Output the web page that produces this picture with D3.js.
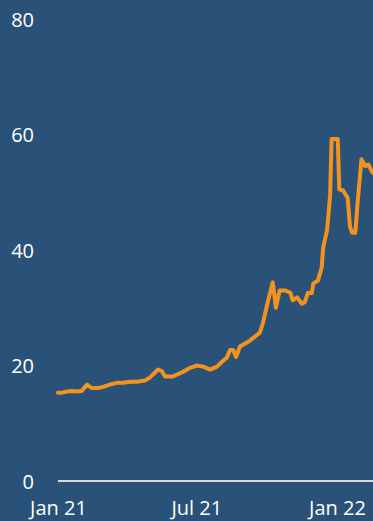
<!DOCTYPE html>
<html>
<head>
<meta charset="utf-8">
<script src="https://cdn.jsdelivr.net/npm/d3@7"></script>
<style>
  html, body { margin: 0; padding: 0; background: #2a5279; overflow: hidden; }
  svg { display: block; }
  text { font-family: "Open Sans", sans-serif; }
</style>
</head>
<body>
<svg id="chart" width="373" height="521"></svg>
<script>
// Data
const dates = [
  "2021-01-01","2021-01-06","2021-01-13","2021-01-19","2021-01-26","2021-02-01",
  "2021-02-08","2021-02-14","2021-02-22","2021-03-01","2021-03-10","2021-03-19",
  "2021-03-27","2021-04-05","2021-04-14","2021-04-25","2021-05-01","2021-05-12",
  "2021-05-17","2021-05-21","2021-05-31","2021-06-12","2021-06-23","2021-07-02",
  "2021-07-10","2021-07-19","2021-07-28","2021-08-04","2021-08-10","2021-08-14",
  "2021-08-18","2021-08-22","2021-08-27","2021-09-09","2021-09-22","2021-09-26",
  "2021-10-03","2021-10-09","2021-10-13","2021-10-18","2021-10-25","2021-11-01",
  "2021-11-04","2021-11-10","2021-11-16","2021-11-20","2021-11-24","2021-11-29",
  "2021-12-01","2021-12-07","2021-12-12","2021-12-14","2021-12-19","2021-12-23",
  "2021-12-25","2022-01-02","2022-01-04","2022-01-09","2022-01-15","2022-01-18",
  "2022-01-21","2022-01-25","2022-01-28","2022-02-02","2022-02-07","2022-02-11",
  "2022-02-16","2022-02-21"
];
const values = [
  15.3,15.3,15.5,15.6,15.5,15.6,
  16.7,16.1,16.1,16.3,16.7,17.0,
  17.0,17.2,17.2,17.4,17.9,19.3,
  19.0,18.1,18.1,18.8,19.6,20.0,
  19.8,19.3,19.8,20.7,21.4,22.7,
  22.7,21.5,23.3,24.3,25.7,27.3,
  31.3,34.4,30.0,33.0,33.0,32.6,
  31.3,31.8,30.7,31.0,32.6,32.5,
  34.2,34.7,37.0,40.5,43.4,49.5,
  59.2,59.2,50.5,50.3,49.0,44.0,
  43.0,43.0,48.3,55.7,54.5,54.8,
  53.5,53.0
];
const yTicks = [0, 20, 40, 60, 80];
const xTickDates = ["2021-01-01", "2021-07-01", "2022-01-01"];
const xTickLabels = ["Jan 21", "Jul 21", "Jan 22"];

const parse = d3.timeParse("%Y-%m-%d");
const data = dates.map((d, i) => ({ date: parse(d), value: values[i] }));

const svg = d3.select("#chart");

const x = d3.scaleTime()
  .domain([parse("2021-01-01"), parse("2022-01-01")])
  .range([58, 337]);
const y = d3.scaleLinear().domain([0, 80]).range([481, 19]);

// Y axis labels
const yAxis = d3.axisLeft(y).tickValues(yTicks).tickSize(0).tickPadding(0)
  .tickFormat(d3.format("d"));
const gy = svg.append("g").attr("transform", "translate(34,1)").call(yAxis);
gy.select(".domain").remove();
gy.selectAll("text").attr("fill", "#ffffff").style("font-size", "20px")
  .style("font-family", "'Open Sans', sans-serif");

// X axis labels
const xAxis = d3.axisBottom(x).tickValues(xTickDates.map(parse)).tickSize(0).tickPadding(0)
  .tickFormat((d, i) => xTickLabels[i]);
const gx = svg.append("g").attr("transform", "translate(0,501)").call(xAxis);
gx.select(".domain").remove();
gx.selectAll("text").attr("fill", "#ffffff").style("font-size", "20px")
  .style("font-family", "'Open Sans', sans-serif");

// Baseline
svg.append("line")
  .attr("x1", x(parse("2021-01-01"))).attr("x2", 373)
  .attr("y1", y(0)).attr("y2", y(0))
  .attr("stroke", "#d9d9d9").attr("stroke-width", 1.8);

// Series line
const line = d3.line().x(d => x(d.date)).y(d => y(d.value));
svg.append("path").datum(data)
  .attr("d", line)
  .attr("fill", "none")
  .attr("stroke", "#f2921f")
  .attr("stroke-width", 4)
  .attr("stroke-linejoin", "round")
  .attr("stroke-linecap", "round");
</script>
</body>
</html>
